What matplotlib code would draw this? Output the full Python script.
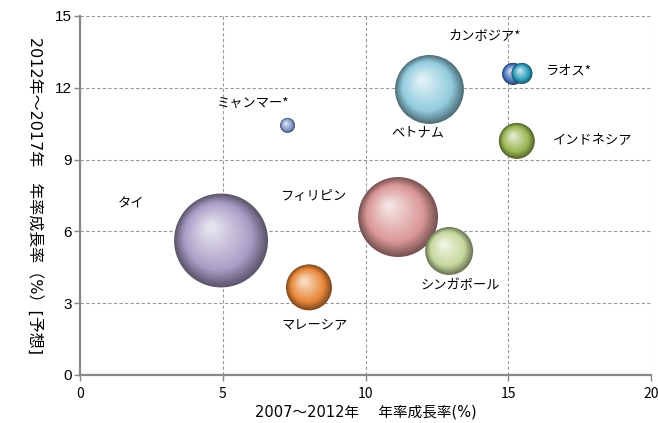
import numpy as np
import matplotlib
matplotlib.use("Agg")
import matplotlib.pyplot as plt
import matplotlib.transforms as mtransforms
from matplotlib.colors import to_rgb

plt.rcParams['font.family'] = ['Noto Sans CJK JP', 'DejaVu Sans']

# data
countries = ['タイ', 'マレーシア', 'ミャンマー*', 'フィリピン', 'ベトナム',
             'カンボジア*', 'ラオス*', 'インドネシア', 'シンガポール']
growth_0712 = [4.94, 8.02, 7.27, 11.14, 12.24, 15.17, 15.48, 15.30, 12.93]
growth_1217 = [5.62, 3.66, 10.43, 6.60, 11.93, 12.58, 12.60, 9.78, 5.18]
bubble_size = [2209, 529, 56, 1600, 1190, 121, 110, 324, 576]
colors = ['#A99DC6', '#E8883A', '#8098C8', '#DA9696', '#92CCDE',
          '#4A78BE', '#2E9EC0', '#9AB552', '#C5D89D']
label_x = [1.79, 8.23, 6.06, 8.16, 11.84, 14.19, 17.09, 17.97, 13.31]
label_y = [7.15, 2.05, 11.37, 7.44, 10.11, 14.17, 12.70, 9.82, 3.72]

fig = plt.figure(figsize=(6.58, 4.23), dpi=100)
ax = fig.add_axes([0.1216, 0.1135, 0.8678, 0.8487])

def blend(c1, c2, t):
    c1 = np.array(to_rgb(c1))
    c2 = np.array(to_rgb(c2))
    return tuple(c1 * (1 - t) + c2 * t)

# pseudo 3D spheres: stacked circles, shifted up-left and lighter
scale = 2.07
for x, y, s, c in zip(growth_0712, growth_1217, bubble_size, colors):
    r_pt = np.sqrt(s * scale) / 2
    dark = blend(c, 'black', 0.45)
    n = 30
    for k in range(n):
        t = k / (n - 1)
        frac = 1 - 0.9 * t
        if t < 0.3:
            col = blend(dark, c, t / 0.3)
        else:
            col = blend(c, 'white', (t - 0.3) / 0.7 * 0.7)
        off = mtransforms.offset_copy(ax.transData, fig=fig,
                                      x=-0.22 * r_pt * t, y=0.28 * r_pt * t,
                                      units='points')
        ax.scatter([x], [y], s=s * scale * frac ** 2, color=col,
                   edgecolors='none', transform=off, zorder=3)

for name, lx, ly in zip(countries, label_x, label_y):
    ax.text(lx, ly, name, ha='center', va='center', fontsize=9.5, zorder=5)

ax.set_xlim(0, 20)
ax.set_ylim(0, 15)
ax.set_xticks([0, 5, 10, 15, 20])
ax.set_yticks([0, 3, 6, 9, 12, 15])
ax.grid(True, color='#999999', linestyle=(0, (3, 2)), linewidth=0.8, zorder=0)
ax.set_axisbelow(True)
for side in ['top', 'right']:
    ax.spines[side].set_visible(False)
for side in ['left', 'bottom']:
    ax.spines[side].set_color('#888888')
    ax.spines[side].set_linewidth(1.6)
ax.tick_params(colors='#888888', length=4, width=1, labelcolor='black')
ax.tick_params(axis='x', labelsize=10, pad=5)
ax.tick_params(axis='y', labelsize=11, pad=2)
for lab in ax.get_yticklabels():
    lab.set_family(['Liberation Sans', 'DejaVu Sans'])

mixed = ['DejaVu Sans', 'Noto Sans CJK JP']
ax.set_xlabel('2007～2012年　 年率成長率(%)', fontsize=10.5, labelpad=2,
              family=mixed)
ax.set_ylabel('2012年～2017年　年率成長率（%）[予想]', fontsize=11.5,
              rotation=-90, family=mixed)
ax.yaxis.set_label_coords(-0.092, 0.5)

fig.savefig('out.png', dpi=100)
